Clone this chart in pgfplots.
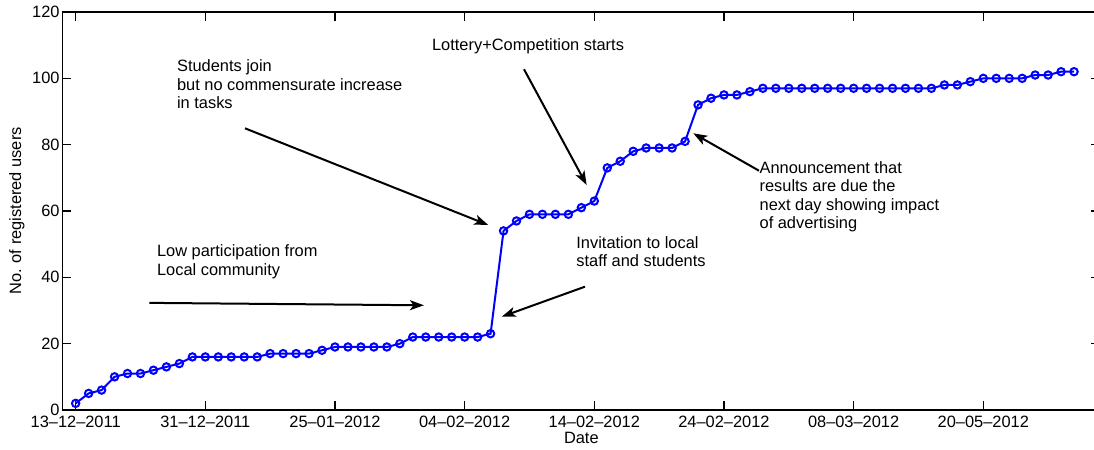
\documentclass[border=0pt]{standalone}
\usepackage{fontspec}
\setmainfont{Liberation Sans}
\usepackage{pgfplots}
\usepackage{pgfplotstable}
\pgfplotsset{compat=1.18}
\usetikzlibrary{arrows.meta}

\definecolor{lineblue}{RGB}{0,0,255}

% day index vs. number of registered users
\pgfplotstableread{
idx users
1 2
2 5
3 6
4 10
5 11
6 11
7 12
8 13
9 14
10 16
11 16
12 16
13 16
14 16
15 16
16 17
17 17
18 17
19 17
20 18
21 19
22 19
23 19
24 19
25 19
26 20
27 22
28 22
29 22
30 22
31 22
32 22
33 23
34 54
35 57
36 59
37 59
38 59
39 59
40 61
41 63
42 73
43 75
44 78
45 79
46 79
47 79
48 81
49 92
50 94
51 95
52 95
53 96
54 97
55 97
56 97
57 97
58 97
59 97
60 97
61 97
62 97
63 97
64 97
65 97
66 97
67 97
68 98
69 98
70 99
71 100
72 100
73 100
74 100
75 101
76 101
77 102
78 102
}\usersdata

\begin{document}
\fontsize{8.2}{9.15}\selectfont
\begin{tikzpicture}[
  note/.style={anchor=base west, inner sep=0pt, font=\fontsize{8.2}{9.15}\selectfont},
  pointer/.style={line width=1pt, -{Stealth[length=7pt,width=5pt,inset=1.8pt]}}]
\begin{axis}[
  at={(0,0)}, anchor=south west,
  scale only axis, width=518.65pt, height=199pt,
  xmin=0, xmax=80, ymin=0, ymax=120,
  clip=false,
  xtick={1,11,21,31,41,51,61,71},
  xticklabels={13--12--2011,31--12--2011,25--01--2012,04--02--2012,14--02--2012,24--02--2012,08--03--2012,20--05--2012},
  ytick={0,20,...,120},
  tick align=inside,
  major tick length=4.35pt,
  axis line style={black, line width=0.7pt},
  every tick/.style={black, line width=0.6pt},
  tick label style={font=\fontsize{8.2}{9.8}\selectfont, black},
  /pgf/number format/assume math mode=true,
  xticklabel style={anchor=north, inner sep=0pt, yshift=-2.85pt},
  yticklabel style={anchor=east, inner sep=0pt, xshift=-1.35pt},
  xlabel={Date},
  ylabel={No. of registered users},
  every axis x label/.style={at={(axis description cs:0.5,-0.0553)}, anchor=north, inner sep=0pt, font=\fontsize{8.2}{9.8}\selectfont},
  every axis y label/.style={at={(axis description cs:-0.0441,0.5)}, rotate=90, anchor=center, inner sep=0pt, font=\fontsize{8.2}{9.8}\selectfont},
]
\addplot[lineblue, line width=1pt, mark=o, mark size=1.85pt,
  mark options={solid, line width=1pt}] table[x=idx, y=users] {\usersdata};

% annotations
\node[note] at (axis cs:8.79,102.0) {Students join};
\node[note] at (axis cs:8.79,96.48) {but no commensurate increase};
\node[note] at (axis cs:8.79,90.96) {in tasks};
\draw[pointer] (axis cs:14.06,84.93) -- (axis cs:32.82,55.78);

\node[note] at (axis cs:28.46,108.33) {Lottery+Competition starts};
\draw[pointer] (axis cs:35.58,102.72) -- (axis cs:40.41,67.84);

\node[note] at (axis cs:39.59,48.75) {Invitation to local};
\node[note] at (axis cs:39.59,43.21) {staff and students};
\draw[pointer] (axis cs:40.28,37.18) -- (axis cs:33.86,28.13);

\node[note] at (axis cs:53.72,71.37) {Announcement that};
\node[note] at (axis cs:53.72,65.85) {results are due the};
\node[note] at (axis cs:53.72,60.30) {next day showing impact};
\node[note] at (axis cs:53.72,54.78) {of advertising};
\draw[pointer] (axis cs:53.70,72.15) -- (axis cs:48.63,83.43);

\node[note] at (axis cs:7.25,46.22) {Low participation from};
\node[note] at (axis cs:7.25,40.70) {Local community};
\draw[pointer] (axis cs:6.68,32.30) -- (axis cs:27.86,31.57);
\end{axis}
\pgfresetboundingbox
\path[use as bounding box] (-31.35pt,-20pt) rectangle (515.65pt,205pt);
\end{tikzpicture}
\end{document}
